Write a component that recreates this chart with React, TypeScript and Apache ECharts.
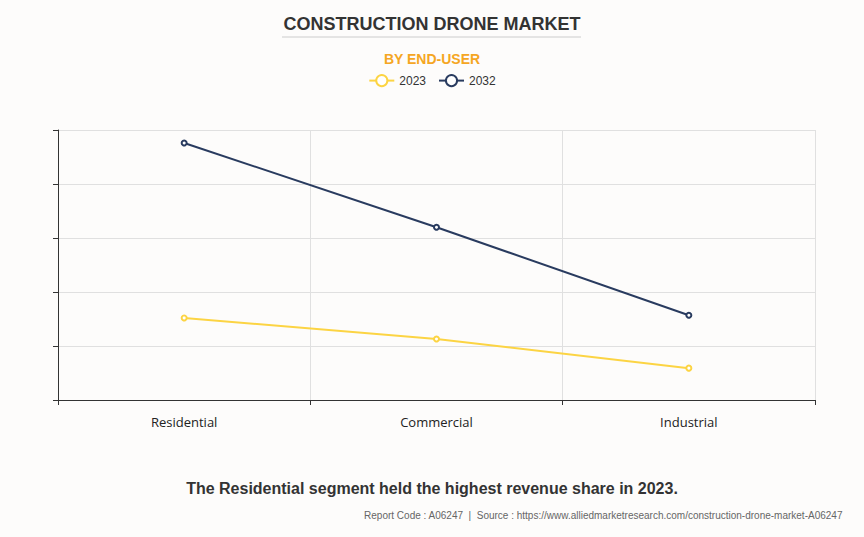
import React, { useEffect, useRef } from "react";
import * as echarts from "echarts";

const categories = ["Residential", "Commercial", "Industrial"];
const series2023 = [1.52, 1.13, 0.59];
const series2032 = [4.76, 3.2, 1.57];
const seriesNames = ["2023", "2032"];

export default function App() {
  const ref = useRef<HTMLDivElement>(null);
  useEffect(() => {
    const chart = echarts.init(ref.current!, null, { renderer: "svg" });
    chart.setOption({
      animation: false,
      backgroundColor: "#fdfcfb",
      title: [
        {
          text: "CONSTRUCTION DRONE MARKET",
          left: "center",
          top: 10,
          textStyle: { fontFamily: "Arial, Liberation Sans", fontSize: 18, fontWeight: "bold", color: "#333" },
        },
        {
          text: "BY END-USER",
          left: "center",
          top: 47,
          textStyle: { fontFamily: "Arial, Liberation Sans", fontSize: 14, fontWeight: "bold", color: "#f5a623" },
        },
        {
          text: "The Residential segment held the highest revenue share in 2023.",
          left: "center",
          top: 475,
          textStyle: { fontFamily: "Arial, Liberation Sans", fontSize: 16, fontWeight: "bold", color: "#333" },
        },
        {
          text: "Report Code : A06247  |  Source : https://www.alliedmarketresearch.com/construction-drone-market-A06247",
          right: 16,
          top: 505,
          textStyle: { fontFamily: "Arial, Liberation Sans", fontSize: 10, fontWeight: "normal", color: "#666" },
        },
      ],
      graphic: [
        {
          type: "line",
          shape: { x1: 282, y1: 37, x2: 581, y2: 37 },
          style: { stroke: "#ccc", lineWidth: 1 },
        },
      ],
      legend: {
        top: 69,
        left: "center",
        data: seriesNames,
        itemWidth: 25,
        itemHeight: 14,
        itemGap: 12,
        textStyle: { fontFamily: "Arial, Liberation Sans", fontSize: 12, color: "#333" },
      },
      grid: { left: 58, right: 49, top: 130, bottom: 137 },
      xAxis: {
        type: "category",
        data: categories,
        boundaryGap: true,
        axisLine: { lineStyle: { color: "#333" } },
        axisTick: { show: true, lineStyle: { color: "#333" } },
        axisLabel: { fontFamily: "Open Sans, sans-serif", fontSize: 13, color: "#222", margin: 15 },
        splitLine: { show: true, lineStyle: { color: "#e0e0e0" } },
      },
      yAxis: {
        type: "value",
        min: 0,
        max: 5,
        interval: 1,
        axisLine: { show: true, lineStyle: { color: "#333" } },
        axisTick: { show: true, lineStyle: { color: "#333" } },
        axisLabel: { show: false },
        splitLine: { show: true, lineStyle: { color: "#e0e0e0" } },
      },
      series: [
        {
          name: seriesNames[0],
          type: "line",
          data: series2023,
          symbol: "emptyCircle",
          symbolSize: 5,
          color: "#fcd443",
          lineStyle: { width: 2, color: "#fcd443" },
        },
        {
          name: seriesNames[1],
          type: "line",
          data: series2032,
          symbol: "emptyCircle",
          symbolSize: 5,
          color: "#293b5f",
          lineStyle: { width: 2, color: "#293b5f" },
        },
      ],
    });
    return () => chart.dispose();
  }, []);
  return (
    <div
      ref={ref}
      style={{ position: "fixed", left: 0, top: 0, width: 864, height: 537 }}
    />
  );
}
